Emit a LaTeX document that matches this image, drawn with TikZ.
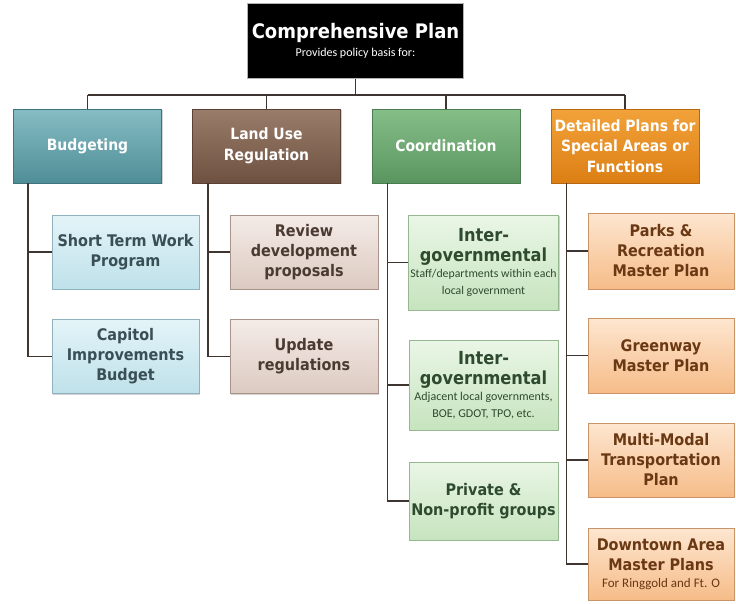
\documentclass[tikz,border=0pt]{standalone}
\usepackage{fontspec}
\setmainfont{DejaVu Sans Condensed}
\newfontfamily\subfont{Carlito}
\usetikzlibrary{shadows,calc}
\definecolor{linec}{HTML}{3E3530}
\definecolor{tealT}{HTML}{86BCC3}\definecolor{tealB}{HTML}{4F8E97}\definecolor{tealD}{HTML}{3F747C}
\definecolor{brownT}{HTML}{9A7C6A}\definecolor{brownB}{HTML}{6E5140}\definecolor{brownD}{HTML}{5A4133}
\definecolor{greenT}{HTML}{86BE88}\definecolor{greenB}{HTML}{5A9560}\definecolor{greenD}{HTML}{4A7D50}
\definecolor{orangeT}{HTML}{F2A23A}\definecolor{orangeB}{HTML}{DC7F14}\definecolor{orangeD}{HTML}{B8670E}
\definecolor{lblueT}{HTML}{E3F4F8}\definecolor{lblueB}{HTML}{BFE1EA}\definecolor{lblueD}{HTML}{8FB2BC}\definecolor{lblueX}{HTML}{3A4E56}
\definecolor{lbrT}{HTML}{F4EBE7}\definecolor{lbrB}{HTML}{DCCAC1}\definecolor{lbrD}{HTML}{A8948A}\definecolor{lbrX}{HTML}{4A3A31}
\definecolor{lgrT}{HTML}{EAF6E6}\definecolor{lgrB}{HTML}{C6E4BE}\definecolor{lgrD}{HTML}{96B790}\definecolor{lgrX}{HTML}{2E4A2F}
\definecolor{lorT}{HTML}{FDE6D0}\definecolor{lorB}{HTML}{F6BC88}\definecolor{lorD}{HTML}{C99468}\definecolor{lorX}{HTML}{6A3812}
\begin{document}
\begin{tikzpicture}[x=1pt,y=-1pt,
  shade/.style={drop shadow={shadow xshift=1.3pt,shadow yshift=-1.3pt,opacity=0.35}},
  rootbox/.style={rectangle,fill=black,draw=gray!60,line width=0.8pt,text=white,align=center,
    minimum width=216pt,minimum height=75pt,inner sep=2pt},
  lvl/.style={rectangle,align=center,text=white,line width=0.8pt,shade,
    minimum width=148pt,minimum height=74pt,inner sep=2pt,font=\fontsize{15.5}{20.5}\selectfont\bfseries},
  budget/.style={lvl,top color=tealT,bottom color=tealB,draw=tealD},
  landuse/.style={lvl,top color=brownT,bottom color=brownB,draw=brownD},
  coord/.style={lvl,top color=greenT,bottom color=greenB,draw=greenD},
  detail/.style={lvl,top color=orangeT,bottom color=orangeB,draw=orangeD},
  kid/.style={rectangle,align=center,line width=0.8pt,shade,inner sep=2pt,
    font=\fontsize{16}{20}\selectfont\bfseries},
  kblue/.style={kid,top color=lblueT,bottom color=lblueB,draw=lblueD,text=lblueX,minimum width=147pt,minimum height=74pt},
  kbrown/.style={kid,top color=lbrT,bottom color=lbrB,draw=lbrD,text=lbrX,minimum width=148pt,minimum height=74pt},
  kgreen/.style={kid,top color=lgrT,bottom color=lgrB,draw=lgrD,text=lgrX,minimum width=149pt},
  korange/.style={kid,top color=lorT,bottom color=lorB,draw=lorD,text=lorX,minimum width=146pt},
  conn/.style={draw=linec,line width=1.6pt}
]
\useasboundingbox[fill=white] (0,0) rectangle (736,603);

% root
\node[rootbox] (root) at (355.5,41) {{\fontsize{20}{22}\selectfont\bfseries Comprehensive Plan}\\[5pt]{\subfont\fontsize{12}{13}\selectfont Provides policy basis for:}};

% level 1
\node[budget]  (b1) at (87.5,146) {Budgeting};
\node[landuse] (b2) at (266.5,146) {Land Use\\Regulation};
\node[coord]   (b3) at (446,146) {Coordination};
\node[detail]  (b4) at (625,146) {Detailed Plans for\\Special Areas or\\Functions};

% children
\node[kblue] (s1) at (125.5,252) {Short Term Work\\Program};
\node[kblue] (s2) at (125.5,356.5) {Capitol\\Improvements\\Budget};
\node[kbrown] (l1) at (304,252) {Review\\development\\proposals};
\node[kbrown] (l2) at (304,356.5) {Update\\regulations};
\node[kgreen,minimum height=95pt] (c1) at (483.5,262.5) {{\fontsize{18}{21}\selectfont Inter-}\\{\fontsize{18}{21}\selectfont governmental}\\[-4pt]{\subfont\fontsize{11.8}{16}\selectfont\mdseries Staff/departments within each}\\[-3pt]{\subfont\fontsize{11.8}{16}\selectfont\mdseries local government}};
\node[kgreen,minimum height=90pt] (c2) at (483.5,385) {{\fontsize{18}{21}\selectfont Inter-}\\{\fontsize{18}{21}\selectfont governmental}\\[-4pt]{\subfont\fontsize{12}{16}\selectfont\mdseries Adjacent local governments,}\\[-3pt]{\subfont\fontsize{12}{16}\selectfont\mdseries BOE, GDOT, TPO, etc.}};
\node[kgreen,minimum height=78pt] (c3) at (483.5,501) {Private \&\\Non-profit groups};
\node[korange,minimum height=76pt] (d1) at (661,251) {Parks \&\\Recreation\\Master Plan};
\node[korange,minimum height=75pt] (d2) at (661,355.5) {Greenway\\Master Plan};
\node[korange,minimum height=74pt] (d3) at (661,460) {Multi-Modal\\Transportation\\Plan};
\node[korange,minimum height=72pt] (d4) at (661,564) {Downtown Area\\Master Plans\\[-3pt]{\subfont\fontsize{13}{15}\selectfont\mdseries For Ringgold and Ft. O}};

% bus
\coordinate (bus) at (0,95);
\draw[conn] (root.south) -- (root.south |- bus);
\draw[conn] (b1.north |- bus) -- (b4.north |- bus);
\foreach \n in {b1,b2,b3,b4} \draw[conn] (\n.north |- bus) -- (\n.north);

% chains
\draw[conn] ($(b1.south west)+(15,0)$) |- (s1.west);
\draw[conn] ($(b1.south west)+(15,0)$) |- (s2.west);
\draw[conn] ($(b2.south west)+(16,0)$) |- (l1.west);
\draw[conn] ($(b2.south west)+(16,0)$) |- (l2.west);
\draw[conn] ($(b3.south west)+(16,0)$) |- (c1.west);
\draw[conn] ($(b3.south west)+(16,0)$) |- (c2.west);
\draw[conn] ($(b3.south west)+(16,0)$) |- (c3.west);
\draw[conn] ($(b4.south west)+(16,0)$) |- (d1.west);
\draw[conn] ($(b4.south west)+(16,0)$) |- (d2.west);
\draw[conn] ($(b4.south west)+(16,0)$) |- (d3.west);
\draw[conn] ($(b4.south west)+(16,0)$) |- (d4.west);
\end{tikzpicture}
\end{document}
